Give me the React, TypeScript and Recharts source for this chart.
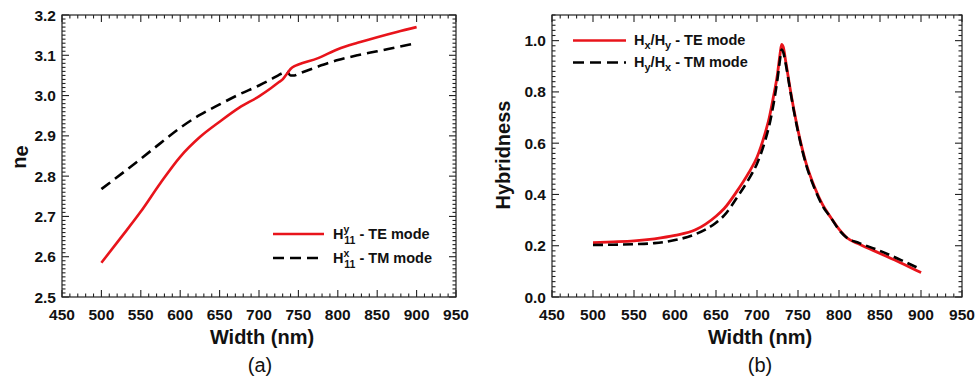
import React from 'react';
import { LineChart, Line, XAxis, YAxis } from 'recharts';

// ---------- data: panel (a) effective index ----------
const widthNm = [500, 525, 550, 575, 600, 625, 650, 675, 700, 715, 725, 730, 735, 740, 745, 750, 775, 800, 825, 850, 875, 900];
const neTE = [2.585, 2.648, 2.712, 2.783, 2.848, 2.897, 2.935, 2.97, 2.998, 3.018, 3.033, 3.04, 3.053, 3.066, 3.073, 3.077, 3.093, 3.115, 3.131, 3.145, 3.158, 3.17];
const neTM = [2.768, 2.805, 2.843, 2.882, 2.92, 2.952, 2.978, 3.003, 3.025, 3.04, 3.051, 3.056, 3.06, 3.05, 3.05, 3.054, 3.072, 3.088, 3.1, 3.11, 3.12, 3.13];

// ---------- data: panel (b) hybridness ----------
const hybWidthNm = [500, 525, 550, 575, 600, 625, 650, 660, 675, 690, 700, 710, 715, 720, 725, 728, 730, 732, 735, 740, 745, 750, 760, 770, 780, 790, 800, 810, 825, 850, 875, 900];
const hybTE = [0.212, 0.215, 0.219, 0.227, 0.24, 0.262, 0.315, 0.345, 0.41, 0.485, 0.545, 0.64, 0.7, 0.78, 0.87, 0.945, 0.985, 0.975, 0.92, 0.82, 0.73, 0.65, 0.52, 0.43, 0.36, 0.31, 0.265, 0.23, 0.206, 0.17, 0.134, 0.095];
const hybTM = [0.203, 0.204, 0.206, 0.21, 0.222, 0.245, 0.29, 0.318, 0.385, 0.46, 0.52, 0.61, 0.67, 0.75, 0.85, 0.925, 0.965, 0.955, 0.91, 0.815, 0.725, 0.645, 0.515, 0.425, 0.355, 0.31, 0.262, 0.23, 0.21, 0.18, 0.145, 0.108];

// ---------- tick labels ----------
const xTickLabels = [450, 500, 550, 600, 650, 700, 750, 800, 850, 900, 950];
const neTickLabels = [2.5, 2.6, 2.7, 2.8, 2.9, 3.0, 3.1, 3.2];
const hybTickLabels = [0.0, 0.2, 0.4, 0.6, 0.8, 1.0];

// minor tick grids (axis decoration only)
const range = (a: number, b: number, step: number, scale: number) => {
  const out: number[] = [];
  for (let i = Math.round(a * scale); i <= Math.round(b * scale); i += step) out.push(i / scale);
  return out;
};
const xMinorTicks = range(450, 950, 10, 1);
const neMinorTicks = range(2.5, 3.2, 1, 100);
const hybMinorTicks = range(0, 1.1, 2, 100);

const FONT = '"Liberation Sans", Arial, Helvetica, sans-serif';
const RED = '#e8141b';
const FRAME = '#222';

const isIn = (list: number[], v: number) => list.some((t) => Math.abs(t - v) < 1e-6);
const fmtInt = (v: number) => String(Math.round(v));
const fmt1 = (v: number) => Number(v).toFixed(1);

const labelStyle = { fontSize: 15.5, fontWeight: 'bold', fill: '#111', fontFamily: FONT };

const neData = widthNm.map((w, i) => ({ w, te: neTE[i], tm: neTM[i] }));
const hybData = hybWidthNm.map((w, i) => ({ w, te: hybTE[i], tm: hybTM[i] }));

const labelAxis: any = {
  type: 'number',
  allowDataOverflow: true,
  interval: 0,
  tickLine: false,
  tickSize: 0,
  axisLine: false,
  tick: labelStyle,
};
const xDomain: [number, number] = [450, 950];
const neDomain: [number, number] = [2.5, 3.2];
const hybDomain: [number, number] = [0, 1.1];
// plot boxes: left 62, top 15, bottom 297 (1px axes on bottom/left)
const margA = { top: 15, left: 61, right: 24, bottom: 84 };
const margB = { top: 15, left: 61, right: 15, bottom: 84 };
const boxA = { ox: 0, l: 62, t: 15, r: 456, b: 297 };
const boxB = { ox: 490, l: 62, t: 15, r: 472, b: 297 };

// Axis frame with inward major/minor ticks on all four sides (decoration)
function AxisFrame({ box, yd, yMinor, yMajor }: { box: any; yd: [number, number]; yMinor: number[]; yMajor: number[] }) {
  const { ox, l, t, r, b } = box;
  const sx = (v: number) => ox + l + ((v - xDomain[0]) / (xDomain[1] - xDomain[0])) * (r - l);
  const sy = (v: number) => b - ((v - yd[0]) / (yd[1] - yd[0])) * (b - t);
  const segs: any[] = [];
  xMinorTicks.forEach((v, i) => {
    const len = isIn(xTickLabels, v) ? 7 : 3.5;
    const x = sx(v);
    segs.push(<line key={'xb' + i} x1={x} y1={b} x2={x} y2={b - len} />);
    segs.push(<line key={'xt' + i} x1={x} y1={t} x2={x} y2={t + len} />);
  });
  yMinor.forEach((v, i) => {
    const len = isIn(yMajor, v) ? 7 : 3.5;
    const y = sy(v);
    segs.push(<line key={'yl' + i} x1={ox + l} y1={y} x2={ox + l + len} y2={y} />);
    segs.push(<line key={'yr' + i} x1={ox + r} y1={y} x2={ox + r - len} y2={y} />);
  });
  return (
    <g stroke={FRAME} strokeWidth={1.1} fill="none">
      <rect x={ox + l} y={t} width={r - l} height={b - t} strokeWidth={1.2} />
      {segs}
    </g>
  );
}

export default function App() {
  return (
    <div style={{ position: 'absolute', left: 0, top: 0, width: 977, height: 382, background: '#fff' }}>
      <div style={{ position: 'absolute', left: 0, top: 0 }}>
        <LineChart width={480} height={382} data={neData} margin={margA}>
          <XAxis xAxisId="b" dataKey="w" orientation="bottom" height={1} domain={xDomain} ticks={xTickLabels} tickFormatter={fmtInt} tickMargin={12} {...labelAxis} />
          <YAxis yAxisId="l" orientation="left" width={1} domain={neDomain} ticks={neTickLabels} tickFormatter={fmt1} tickMargin={6} {...labelAxis} />
          <Line xAxisId="b" yAxisId="l" type="monotone" dataKey="tm" stroke="#000" strokeWidth={2.6} strokeDasharray="11 6" dot={false} isAnimationActive={false} />
          <Line xAxisId="b" yAxisId="l" type="monotone" dataKey="te" stroke={RED} strokeWidth={2.6} dot={false} isAnimationActive={false} />
        </LineChart>
      </div>
      <div style={{ position: 'absolute', left: 490, top: 0 }}>
        <LineChart width={487} height={382} data={hybData} margin={margB}>
          <XAxis xAxisId="b" dataKey="w" orientation="bottom" height={1} domain={xDomain} ticks={xTickLabels} tickFormatter={fmtInt} tickMargin={12} {...labelAxis} />
          <YAxis yAxisId="l" orientation="left" width={1} domain={hybDomain} ticks={hybTickLabels} tickFormatter={fmt1} tickMargin={6} {...labelAxis} />
          <Line xAxisId="b" yAxisId="l" type="monotone" dataKey="te" stroke={RED} strokeWidth={2.8} dot={false} isAnimationActive={false} />
          <Line xAxisId="b" yAxisId="l" type="monotone" dataKey="tm" stroke="#000" strokeWidth={2.6} strokeDasharray="10 5" dot={false} isAnimationActive={false} />
        </LineChart>
      </div>
      <svg width={977} height={382} style={{ position: 'absolute', left: 0, top: 0, pointerEvents: 'none' }} fontFamily={FONT}>
        <AxisFrame box={boxA} yd={neDomain} yMinor={neMinorTicks} yMajor={neTickLabels} />
        <AxisFrame box={boxB} yd={hybDomain} yMinor={hybMinorTicks} yMajor={hybTickLabels} />
        {/* axis titles */}
        <text x={262} y={344} textAnchor="middle" fontWeight="bold" fontSize={20} fill="#111">Width (nm)</text>
        <text x={760} y={344} textAnchor="middle" fontWeight="bold" fontSize={20} fill="#111">Width (nm)</text>
        <text transform="translate(26,157) rotate(-90)" textAnchor="middle" fontWeight="bold" fontSize={20} fill="#111">
          n<tspan dy={2}>e</tspan>
        </text>
        <text transform="translate(510,155) rotate(-90)" textAnchor="middle" fontWeight="bold" fontSize={20} fill="#111">Hybridness</text>
        {/* panel letters */}
        <text x={260} y={372} textAnchor="middle" fontSize={20} fill="#111">(a)</text>
        <text x={760} y={372} textAnchor="middle" fontSize={20} fill="#111">(b)</text>
        {/* legend (a) */}
        <line x1={273} y1={234} x2={324} y2={234} stroke={RED} strokeWidth={2.6} />
        <line x1={273} y1={258} x2={324} y2={258} stroke="#000" strokeWidth={2.6} strokeDasharray="11 6" />
        <text x={333} y={239} fontWeight="bold" fontSize={14.5} fill="#111">
          H<tspan dy={-6} fontSize={10.5}>y</tspan><tspan dx={-5} dy={11} fontSize={10.5}>11</tspan><tspan dy={-5}> - TE mode</tspan>
        </text>
        <text x={333} y={263} fontWeight="bold" fontSize={14.5} fill="#111">
          H<tspan dy={-6} fontSize={10.5}>x</tspan><tspan dx={-5} dy={11} fontSize={10.5}>11</tspan><tspan dy={-5}> - TM mode</tspan>
        </text>
        {/* legend (b) */}
        <line x1={573} y1={40.5} x2={626} y2={40.5} stroke={RED} strokeWidth={2.6} />
        <line x1={573} y1={62.5} x2={626} y2={62.5} stroke="#000" strokeWidth={2.6} strokeDasharray="11 6" />
        <text x={634} y={45} fontWeight="bold" fontSize={14.5} fill="#111">
          H<tspan dy={4} fontSize={11}>x</tspan><tspan dy={-4}>/H</tspan><tspan dy={4} fontSize={11}>y</tspan><tspan dy={-4}> - TE mode</tspan>
        </text>
        <text x={634} y={67} fontWeight="bold" fontSize={14.5} fill="#111">
          H<tspan dy={4} fontSize={11}>y</tspan><tspan dy={-4}>/H</tspan><tspan dy={4} fontSize={11}>x</tspan><tspan dy={-4}> - TM mode</tspan>
        </text>
      </svg>
    </div>
  );
}
